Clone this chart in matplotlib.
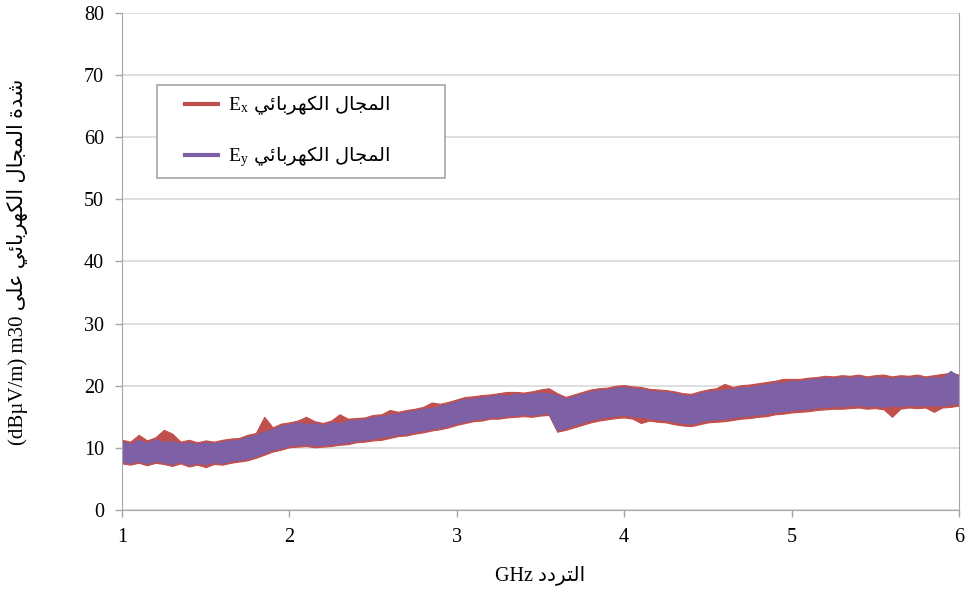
import numpy as np
import matplotlib
matplotlib.use("Agg")
from matplotlib import pyplot as plt
from matplotlib.font_manager import FontProperties
from matplotlib.lines import Line2D
from matplotlib.legend_handler import HandlerLine2D

# frequency grid (GHz), one sample every 0.05 GHz
freq = np.linspace(1.0, 6.0, 101)

# Ex band (red): lower / upper edge of the noisy trace, dBuV/m
ex_low = [7.5, 7.3, 7.6, 7.2, 7.6, 7.4, 7.1, 7.5, 7.0, 7.3,
          6.9, 7.4, 7.3, 7.6, 7.8, 8.0, 8.4, 8.9, 9.4, 9.7,
          10.1, 10.2, 10.3, 10.1, 10.2, 10.3, 10.5, 10.6, 10.9, 11.0,
          11.2, 11.3, 11.6, 11.9, 12.0, 12.3, 12.5, 12.8, 13.0, 13.3,
          13.7, 14.0, 14.3, 14.4, 14.7, 14.7, 14.9, 15.0, 15.1, 15.0,
          15.2, 15.3, 12.6, 12.9, 13.3, 13.7, 14.1, 14.4, 14.6, 14.8,
          14.9, 14.7, 14.0, 14.4, 14.2, 14.1, 13.8, 13.6, 13.5, 13.8,
          14.1, 14.2, 14.3, 14.5, 14.7, 14.8, 15.0, 15.1, 15.4, 15.5,
          15.7, 15.8, 15.9, 16.1, 16.2, 16.3, 16.3, 16.4, 16.5, 16.3,
          16.4, 16.2, 15.0, 16.3, 16.5, 16.4, 16.5, 15.8, 16.5, 16.6,
          16.8]
ex_high = [11.3, 11.0, 12.1, 11.2, 11.7, 12.9, 12.3, 11.0, 11.3, 10.9,
           11.2, 11.0, 11.3, 11.5, 11.6, 12.1, 12.4, 15.0, 13.3, 13.9,
           14.1, 14.4, 15.0, 14.3, 14.0, 14.4, 15.4, 14.7, 14.8, 14.9,
           15.3, 15.4, 16.1, 15.8, 16.1, 16.3, 16.6, 17.3, 17.1, 17.4,
           17.8, 18.2, 18.3, 18.5, 18.6, 18.8, 19.0, 19.0, 18.9, 19.1,
           19.4, 19.6, 18.8, 18.2, 18.6, 19.0, 19.4, 19.6, 19.7, 20.0,
           20.1, 19.9, 19.8, 19.5, 19.4, 19.3, 19.1, 18.8, 18.7, 19.1,
           19.4, 19.6, 20.3, 19.8, 20.1, 20.2, 20.4, 20.6, 20.8, 21.1,
           21.1, 21.1, 21.3, 21.4, 21.6, 21.5, 21.7, 21.6, 21.8, 21.5,
           21.7, 21.8, 21.5, 21.7, 21.6, 21.8, 21.5, 21.7, 21.9, 22.1,
           21.8]

# Ey band (purple)
ey_low = [7.8, 7.6, 7.9, 7.5, 7.9, 7.7, 7.4, 7.8, 7.3, 7.6,
          7.4, 7.7, 7.6, 7.9, 8.1, 8.3, 8.7, 9.2, 9.7, 10.0,
          10.4, 10.5, 10.6, 10.4, 10.5, 10.6, 10.8, 10.9, 11.2, 11.3,
          11.5, 11.8, 11.9, 12.2, 12.3, 12.6, 12.8, 13.1, 13.3, 13.6,
          14.0, 14.3, 14.6, 14.7, 15.0, 15.0, 15.2, 15.3, 15.4, 15.3,
          15.5, 15.6, 12.9, 13.2, 13.7, 14.1, 14.5, 14.8, 15.0, 15.2,
          15.3, 15.1, 15.0, 14.8, 14.6, 14.5, 14.2, 14.0, 13.9, 14.2,
          14.5, 14.6, 14.7, 14.9, 15.1, 15.2, 15.4, 15.5, 15.8, 15.9,
          16.1, 16.2, 16.3, 16.5, 16.6, 16.7, 16.7, 16.8, 16.9, 16.7,
          16.8, 16.6, 16.8, 16.7, 16.9, 16.8, 16.9, 16.8, 16.9, 17.0,
          17.2]
ey_high = [11.0, 10.6, 11.3, 10.8, 11.4, 10.9, 11.1, 10.7, 10.9, 10.6,
           10.9, 10.7, 11.0, 11.2, 11.3, 11.8, 12.1, 12.6, 13.0, 13.6,
           13.8, 14.1, 13.8, 14.0, 13.7, 14.1, 14.0, 14.4, 14.5, 14.6,
           15.0, 15.1, 15.4, 15.5, 15.8, 16.0, 16.3, 16.4, 16.8, 17.1,
           17.5, 17.9, 17.9, 18.2, 18.3, 18.5, 18.4, 18.7, 18.6, 18.8,
           18.9, 18.8, 18.5, 17.9, 18.3, 18.7, 19.1, 19.3, 19.4, 19.7,
           19.8, 19.6, 19.5, 19.2, 19.1, 19.0, 18.8, 18.5, 18.4, 18.8,
           19.1, 19.2, 19.4, 19.5, 19.8, 19.8, 20.1, 20.2, 20.5, 20.5,
           20.8, 20.8, 21.0, 21.1, 21.3, 21.2, 21.4, 21.3, 21.5, 21.2,
           21.4, 21.3, 21.2, 21.4, 21.3, 21.5, 21.2, 21.4, 21.3, 22.4,
           21.5]

x_ticks = [1, 2, 3, 4, 5, 6]
y_ticks = [0, 10, 20, 30, 40, 50, 60, 70, 80]

# Arabic words in presentation forms (logical order), flipped for LTR drawing
w_majal = "\uFE8D\uFEDF\uFEE4\uFEA0\uFE8E\uFEDD"
w_kahrabai = "\uFE8D\uFEDF\uFEDC\uFEEC\uFEAE\uFE91\uFE8E\uFE8B\uFEF2"
w_shidda = "\uFEB7\uFEAA\uFE93"
w_ala = "\uFECB\uFEE0\uFEF0"
w_taraddud = "\uFE8D\uFEDF\uFE98\uFEAE\uFEA9\uFEA9"


def vis(word):
    return word[::-1]


field_txt = vis(w_kahrabai) + " " + vis(w_majal)
ylabel_txt = ("(dB\u00b5V/m) m30 " + vis(w_ala) + " " + vis(w_kahrabai)
              + " " + vis(w_majal) + " " + vis(w_shidda))
xlabel_txt = "GHz " + vis(w_taraddud)

red = "#C0504D"
purple = "#7D60A6"


class PaddedLine(HandlerLine2D):
    # legend line drawn only on the right part of the handle box
    def create_artists(self, legend, orig_handle, xdescent, ydescent,
                       width, height, fontsize, trans):
        arts = super().create_artists(legend, orig_handle, xdescent, ydescent,
                                      width, height, fontsize, trans)
        for a in arts:
            xd = np.asarray(a.get_xdata(), dtype=float)
            if len(xd) >= 2:
                x0 = xd[0] + 0.36 * (xd[-1] - xd[0])
                a.set_xdata(np.linspace(x0, xd[-1], len(xd)))
        return arts


plt.rcParams["font.family"] = ["Liberation Serif", "DejaVu Sans"]
plt.rcParams["mathtext.fontset"] = "custom"
plt.rcParams["mathtext.rm"] = "Liberation Serif"

fig = plt.figure(figsize=(9.71, 5.99), dpi=100)
ax = fig.add_axes([0.1256, 0.1486, 0.8620, 0.8297])

ax.fill_between(freq, ex_low, ex_high, color=red, lw=0.8)
ax.fill_between(freq, ey_low, ey_high, color=purple, lw=0.8)

ax.set_xlim(1, 6)
ax.set_ylim(0, 80)
ax.set_xticks(x_ticks)
ax.set_yticks(y_ticks)
ax.tick_params(labelsize=14.5, labelcolor="#000000", color="#A6A6A6",
               length=5, width=1, pad=8)
ax.yaxis.grid(True, color="#D9D9D9", lw=1.2)
ax.set_axisbelow(True)
for side in ["left", "right", "bottom"]:
    ax.spines[side].set_color("#A6A6A6")
ax.spines["top"].set_visible(False)

ax.set_xlabel(xlabel_txt, fontsize=14.5)
ax.xaxis.set_label_coords(0.5, -0.112)
ax.set_ylabel(ylabel_txt, fontsize=15)
ax.yaxis.set_label_coords(-0.112, 0.5)

handles = [Line2D([], [], color=red, lw=3),
           Line2D([], [], color=purple, lw=3)]
labels = [r"$\mathrm{E_x}$ " + field_txt, r"$\mathrm{E_y}$ " + field_txt]
leg = ax.legend(handles, labels, loc="upper left",
                bbox_to_anchor=(0.042, 0.664, 0.344, 0.191), mode="expand",
                borderaxespad=0,
                handler_map={Line2D: PaddedLine()},
                prop=FontProperties(family="DejaVu Sans", size=14),
                frameon=True, fancybox=False, edgecolor="#A6A6A6",
                framealpha=1, handlelength=2.68, handletextpad=0.5,
                borderpad=0.45, labelspacing=1.4)
leg.get_frame().set_linewidth(1.2)

fig.savefig("out.png", dpi=100)
